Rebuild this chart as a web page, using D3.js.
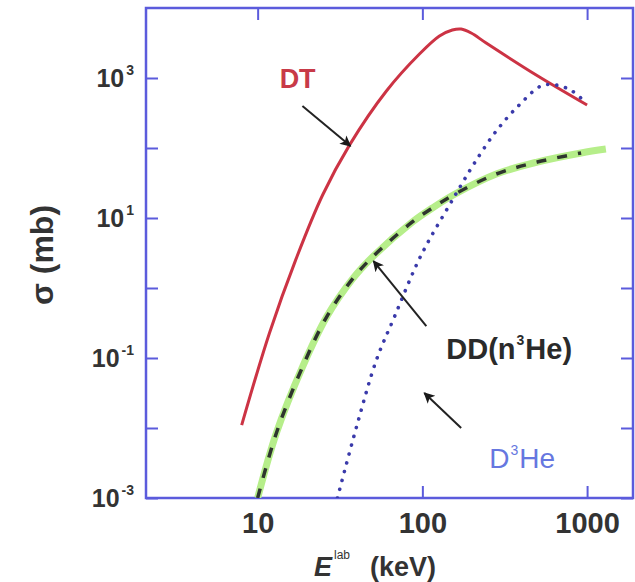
<!DOCTYPE html>
<html>
<head>
<meta charset="utf-8">
<script src="https://cdn.jsdelivr.net/npm/d3@7"></script>
<style>
body { margin: 0; background: #fff; }
text { font-family: "Liberation Sans", Arial, sans-serif; }
</style>
</head>
<body>
<div class="chart"></div>
<script>
//Cross sections (E lab in keV, sigma in mb)
var dtEnergy = [8.0, 11.8, 17.0, 24.8, 36.1, 60.5, 96, 127, 152, 172, 198, 244, 491, 1000];
var dtSigma = [0.011, 0.228, 2.5, 21.3, 110, 652, 2200, 3980, 4850, 5010, 4390, 3160, 1104, 411];

var ddEnergy = [10, 13.0, 18.7, 26.2, 37.7, 49.8, 86.9, 115, 156, 281, 498, 920, 1300];
var ddSigma = [0.001, 0.0085, 0.074, 0.385, 1.35, 2.77, 8.77, 13.9, 21.7, 42.5, 63, 85, 96.8];

var dheEnergy = [30.5, 39.8, 52.6, 67.6, 92, 110, 146, 172, 209, 281, 387, 526, 649, 811, 973];
var dheSigma = [0.001, 0.0103, 0.0936, 0.385, 2.13, 4.85, 15.3, 29.6, 63, 175, 411, 769, 794, 652, 454];

//Ticks
var xTicks = [10, 100, 1000];
var yTicks = [1e-3, 1e-2, 1e-1, 1, 10, 100, 1000];
var yLabelExponents = [3, 1, -1, -3];

//Annotations, in data units
var arrows = [
    {from: [18.7, 398], to: [36.6, 107]},
    {from: [105.7, 0.286], to: [50.5, 2.43]},
    {from: [172, 0.01], to: [102.8, 0.0316]}
];

var chartView = {
    width: 635,
    height: 582,
    left: 146,
    right: 633,
    top: 8,
    bottom: 498,
    axisColor: "#5b5bdc",
    init() {
        this.x = d3.scaleLog().domain([2.1, 1900]).range([this.left, this.right]);
        this.y = d3.scaleLog().domain([1e-3, 1e4]).range([this.bottom, this.top]);

        //Create svg element
        this.svg = d3.select(".chart")
            .append("svg")
            .attr("width", this.width)
            .attr("height", this.height);

        this.svg.append("defs")
            .append("clipPath")
            .attr("id", "plot-clip")
            .append("rect")
            .attr("x", this.left)
            .attr("y", this.top)
            .attr("width", this.right - this.left)
            .attr("height", this.bottom - this.top);

        this.svg.select("defs")
            .append("marker")
            .attr("id", "head")
            .attr("viewBox", "0 0 10 10")
            .attr("refX", 9)
            .attr("refY", 5)
            .attr("markerUnits", "userSpaceOnUse")
            .attr("markerWidth", 15)
            .attr("markerHeight", 11)
            .attr("orient", "auto")
            .append("path")
            .attr("d", "M0,0 L10,5 L0,10 L2.5,5 z")
            .attr("fill", "#1a1a1a");
    },
    drawAxes() {
        const x = this.x, y = this.y;

        //Inward ticks on all four sides
        this.svg.append("g")
            .attr("transform", `translate(0,${this.bottom})`)
            .call(d3.axisBottom(x).tickValues(xTicks).tickSize(-12).tickSizeOuter(0)
                .tickPadding(14).tickFormat(d3.format("d")))
            .call(g => g.selectAll("text")
                .attr("fill", "#333")
                .style("font-size", "29px")
                .style("font-weight", "bold")
                .style("font-family", "'Liberation Sans', Arial, sans-serif"));

        this.svg.append("g")
            .attr("transform", `translate(0,${this.top})`)
            .call(d3.axisTop(x).tickValues(xTicks).tickSize(-12).tickSizeOuter(0).tickFormat(""));

        const leftAxis = this.svg.append("g")
            .attr("transform", `translate(${this.left},0)`)
            .call(d3.axisLeft(y).tickValues(yTicks).tickSize(-12).tickSizeOuter(0).tickFormat(""));

        this.svg.append("g")
            .attr("transform", `translate(${this.right},0)`)
            .call(d3.axisRight(y).tickValues(yTicks).tickSize(-12).tickSizeOuter(0).tickFormat(""));

        //Power of ten labels
        const labels = leftAxis.selectAll(".labels")
            .data(yLabelExponents)
            .enter()
            .append("text")
            .attr("x", -12)
            .attr("y", d => y(Math.pow(10, d)) + 9)
            .attr("text-anchor", "end")
            .attr("fill", "#333")
            .style("font-weight", "bold")
            .style("font-size", "25px");
        labels.append("tspan").text("10");
        labels.append("tspan")
            .attr("dy", -12)
            .attr("dx", 2)
            .style("font-size", "14px")
            .text(d => String(d));

        this.svg.selectAll(".domain").remove();
        this.svg.selectAll(".tick line")
            .attr("stroke", this.axisColor)
            .attr("stroke-width", 2);

        //Frame
        this.svg.append("rect")
            .attr("x", this.left)
            .attr("y", this.top)
            .attr("width", this.right - this.left)
            .attr("height", this.bottom - this.top)
            .attr("fill", "none")
            .attr("stroke", this.axisColor)
            .attr("stroke-width", 2.5);
    },
    drawCurve(energy, sigma, style) {
        const line = d3.line()
            .x(d => this.x(d[0]))
            .y(d => this.y(d[1]))
            .curve(d3.curveCatmullRom);
        const points = d3.zip(energy, sigma);

        return this.svg.append("path")
            .datum(points)
            .attr("clip-path", "url(#plot-clip)")
            .attr("d", line)
            .attr("fill", "none")
            .attr("stroke", style.color)
            .attr("stroke-width", style.width)
            .attr("stroke-dasharray", style.dash || null)
            .attr("stroke-linecap", style.cap || "butt");
    },
    drawCurves() {
        //DD: green band with black dashes on top
        this.drawCurve(ddEnergy, ddSigma, {color: "#b6ee8a", width: 7});
        const ddShort = d3.zip(ddEnergy, ddSigma).filter(d => d[0] <= 1000);
        this.drawCurve(ddShort.map(d => d[0]), ddShort.map(d => d[1]),
            {color: "#2e352e", width: 3.5, dash: "10,11"});

        //DT
        this.drawCurve(dtEnergy, dtSigma, {color: "#cc3344", width: 3});

        //D3He
        this.drawCurve(dheEnergy, dheSigma, {color: "#3a3aaa", width: 3.6, dash: "0.1,9", cap: "round"});
    },
    drawAnnotations() {
        const x = this.x, y = this.y;

        this.svg.selectAll(".arrow")
            .data(arrows)
            .enter()
            .append("line")
            .attr("class", "arrow")
            .attr("x1", d => x(d.from[0]))
            .attr("y1", d => y(d.from[1]))
            .attr("x2", d => x(d.to[0]))
            .attr("y2", d => y(d.to[1]))
            .attr("stroke", "#222")
            .attr("stroke-width", 2)
            .attr("marker-end", "url(#head)");

        this.svg.append("text")
            .attr("x", x(13.6))
            .attr("y", y(720))
            .attr("fill", "#c83a48")
            .style("font-weight", "bold")
            .style("font-size", "27px")
            .text("DT");

        const dd = this.svg.append("text")
            .attr("x", x(139.7))
            .attr("y", y(0.097))
            .attr("fill", "#2a2a2a")
            .style("font-weight", "bold")
            .style("font-size", "29px");
        dd.append("tspan").text("DD(n");
        dd.append("tspan").attr("dy", -14).attr("dx", 1).style("font-size", "14px").text("3");
        dd.append("tspan").attr("dy", 14).attr("dx", 1).text("He)");

        const dhe = this.svg.append("text")
            .attr("x", x(254.6))
            .attr("y", y(0.00268))
            .attr("fill", "#6677e0")
            .style("font-size", "28px");
        dhe.append("tspan").text("D");
        dhe.append("tspan").attr("dy", -13).attr("dx", 1).style("font-size", "14px").text("3");
        dhe.append("tspan").attr("dy", 13).attr("dx", 1).text("He");

        //Axis titles
        this.svg.append("text")
            .attr("transform", "translate(53,255) rotate(-90)")
            .attr("text-anchor", "middle")
            .attr("fill", "#333")
            .style("font-weight", "bold")
            .style("font-size", "32px")
            .text("σ (mb)");

        const xTitle = this.svg.append("text")
            .attr("x", 314)
            .attr("y", 576)
            .attr("fill", "#333")
            .style("font-size", "27px")
            .style("font-weight", "bold");
        xTitle.append("tspan").style("font-style", "italic").text("E");
        xTitle.append("tspan").attr("dy", -17).attr("dx", 2).style("font-size", "12px")
            .style("font-weight", "normal").text("lab");
        xTitle.append("tspan").attr("dy", 17).attr("x", 370).text("(keV)");
    }
};

chartView.init();
chartView.drawAxes();
chartView.drawCurves();
chartView.drawAnnotations();
</script>
</body>
</html>
